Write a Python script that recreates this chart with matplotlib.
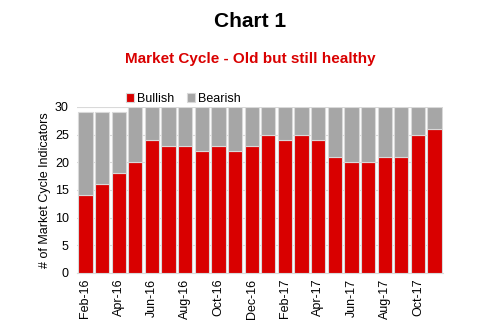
import matplotlib
matplotlib.use("Agg")
import matplotlib.pyplot as plt
import numpy as np

plt.rcParams['font.family'] = ['Liberation Sans', 'DejaVu Sans']

meses = ['Feb-16', 'Mar-16', 'Apr-16', 'May-16', 'Jun-16', 'Jul-16', 'Aug-16', 'Sep-16',
         'Oct-16', 'Nov-16', 'Dec-16', 'Jan-17', 'Feb-17', 'Mar-17', 'Apr-17', 'May-17',
         'Jun-17', 'Jul-17', 'Aug-17', 'Sep-17', 'Oct-17', 'Nov-17']
bullish = [14, 16, 18, 20, 24, 23, 23, 22, 23, 22, 23, 25, 24, 25, 24, 21, 20, 20, 21, 21, 25, 26]
total = [29, 29, 29, 30, 30, 30, 30, 30, 30, 30, 30, 30, 30, 30, 30, 30, 30, 30, 30, 30, 30, 30]
bearish = [t - b for t, b in zip(total, bullish)]

fig = plt.figure(figsize=(5.01, 3.32), dpi=100)
ax = fig.add_axes([0.154, 0.178, 0.73, 0.5])

x = np.arange(len(meses))
ax.bar(x, bullish, width=0.86, color='#d90000', edgecolor='#d9d9d9', linewidth=0.8,
       label='Bullish', zorder=3)
ax.bar(x, bearish, bottom=bullish, width=0.86, color='#a6a6a6', edgecolor='#d9d9d9',
       linewidth=0.8, label='Bearish', zorder=3)

ax.set_xlim(-0.5, len(meses) - 0.5)
ax.set_ylim(0, 30)
ax.set_yticks(range(0, 31, 5))
ax.yaxis.grid(True, color='#d9d9d9', linewidth=0.8, zorder=0)
ax.set_xticks(x[::2])
ax.set_xticklabels(meses[::2], rotation=90, fontsize=9)
ax.tick_params(axis='y', labelsize=9, length=0, pad=6)
ax.tick_params(axis='x', length=0, pad=4)
for lado in ['top', 'left', 'right']:
    ax.spines[lado].set_visible(False)
ax.spines['bottom'].set_color('#d9d9d9')
ax.set_ylabel('# of Market Cycle Indicators', fontsize=9, labelpad=3)

ax.legend(loc='lower center', bbox_to_anchor=(0.29, 0.98), ncol=2, frameon=False,
          fontsize=9, handlelength=0.7, handleheight=0.7, handletextpad=0.2,
          columnspacing=1.0, borderaxespad=0)

fig.text(0.5, 0.935, 'Chart 1', ha='center', va='center', fontsize=15, fontweight='bold')
fig.text(0.5, 0.822, 'Market Cycle - Old but still healthy', ha='center', va='center',
         fontsize=11, fontweight='bold', color='#d90000')

fig.savefig('out.png', dpi=100)
